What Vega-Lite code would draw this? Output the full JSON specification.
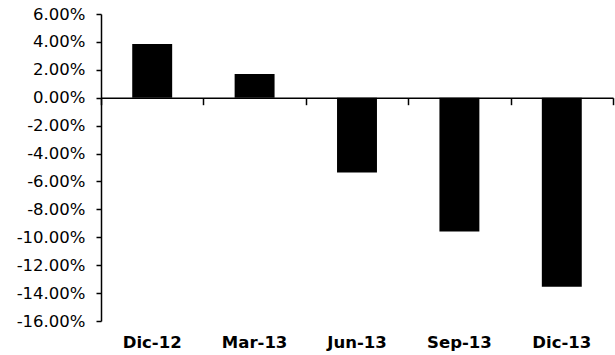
{
  "$schema": "https://vega.github.io/schema/vega-lite/v6.json",
  "width": 512,
  "height": 307,
  "autosize": {"type": "none"},
  "padding": {"left": 101, "top": 14, "right": 2, "bottom": 34},
  "background": "white",
  "config": {"view": {"stroke": null}},
  "data": {
    "values": [
      {"period": "Dic-12", "value": 0.0385},
      {"period": "Mar-13", "value": 0.017},
      {"period": "Jun-13", "value": -0.0535},
      {"period": "Sep-13", "value": -0.0958},
      {"period": "Dic-13", "value": -0.1355}
    ]
  },
  "encoding": {
    "y": {
      "field": "value",
      "type": "quantitative",
      "scale": {"domain": [-0.16, 0.06], "nice": false},
      "axis": {
        "title": null,
        "values": [0.06, 0.04, 0.02, 0, -0.02, -0.04, -0.06, -0.08, -0.1, -0.12, -0.14, -0.16],
        "labelExpr": "replace(format(datum.value, '.2%'), '\u2212', '-')",
        "grid": false,
        "domainColor": "black",
        "domainWidth": 1.5,
        "tickColor": "black",
        "tickSize": 5,
        "tickWidth": 1.5,
        "labelPadding": 11,
        "labelFont": "DejaVu Sans",
        "labelFontSize": 16.5,
        "labelColor": "black"
      }
    }
  },
  "layer": [
    {
      "mark": {"type": "bar", "opacity": 0},
      "encoding": {
        "x": {
          "field": "period",
          "type": "nominal",
          "sort": null,
          "scale": {"paddingInner": 0, "paddingOuter": 0},
          "axis": {
            "orient": "bottom",
            "title": null,
            "offset": -223.3,
            "tickBand": "extent",
            "labels": false,
            "domainColor": "black",
            "domainWidth": 1.5,
            "tickColor": "black",
            "tickSize": 7,
            "tickWidth": 1.5
          }
        }
      }
    },
    {
      "mark": {"type": "bar", "color": "black"},
      "encoding": {
        "x": {
          "field": "period",
          "type": "nominal",
          "sort": null,
          "scale": {"paddingInner": 0.61, "paddingOuter": 0.305},
          "axis": {
            "orient": "bottom",
            "title": null,
            "domain": false,
            "ticks": false,
            "labelAngle": 0,
            "labelPadding": 13,
            "labelFont": "DejaVu Sans",
            "labelFontSize": 16.5,
            "labelFontWeight": "bold",
            "labelColor": "black"
          }
        }
      }
    }
  ],
  "resolve": {"scale": {"x": "independent"}, "axis": {"x": "independent"}}
}
